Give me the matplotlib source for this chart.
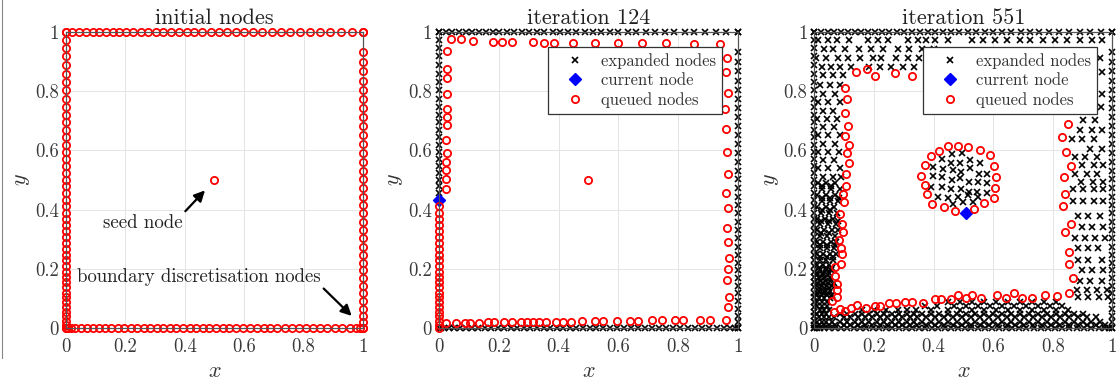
import matplotlib
matplotlib.use("Agg")
import matplotlib.pyplot as plt
import numpy as np
from matplotlib.lines import Line2D

plt.rcParams["font.family"] = "serif"
plt.rcParams["font.serif"] = ["cmr10", "DejaVu Serif"]
plt.rcParams["mathtext.fontset"] = "cm"
plt.rcParams["axes.formatter.use_mathtext"] = True

# boundary discretisation of the unit square
top_x = [0.0, 0.022, 0.045, 0.067, 0.090, 0.112, 0.135, 0.157, 0.180, 0.202, 0.227, 0.251,
         0.277, 0.302, 0.328, 0.353, 0.380, 0.406, 0.432, 0.459, 0.487, 0.515, 0.543, 0.572,
         0.600, 0.631, 0.661, 0.692, 0.724, 0.755, 0.788, 0.822, 0.855, 0.890, 0.926, 0.962, 1.0]
bottom_x = [0.0, 0.008, 0.018, 0.032, 0.050, 0.070, 0.090, 0.111, 0.132, 0.153, 0.174, 0.196,
            0.218, 0.240, 0.262, 0.284, 0.306, 0.328, 0.350, 0.372, 0.394, 0.416, 0.438, 0.460,
            0.482, 0.504, 0.527, 0.550, 0.573, 0.596, 0.619, 0.642, 0.665, 0.688, 0.712, 0.736,
            0.760, 0.784, 0.808, 0.832, 0.856, 0.880, 0.905, 0.930, 0.955, 0.975, 0.990, 1.0]
left_y = [1.0, 0.974, 0.946, 0.918, 0.887, 0.859, 0.830, 0.803, 0.774, 0.747, 0.721, 0.695,
          0.668, 0.644, 0.619, 0.595, 0.571, 0.546, 0.524, 0.501, 0.479, 0.456, 0.434, 0.411,
          0.389, 0.368, 0.348, 0.327, 0.306, 0.287, 0.267, 0.248, 0.229, 0.208, 0.190, 0.172,
          0.154, 0.137, 0.120, 0.104, 0.087, 0.071, 0.055, 0.039, 0.025, 0.011, 0.0]
right_y = [1.0, 0.931, 0.900, 0.868, 0.836, 0.805, 0.773, 0.742, 0.712, 0.681, 0.651, 0.620,
           0.590, 0.561, 0.531, 0.502, 0.473, 0.443, 0.415, 0.387, 0.359, 0.331, 0.303, 0.275,
           0.246, 0.221, 0.195, 0.169, 0.143, 0.117, 0.091, 0.065, 0.042, 0.021, 0.0]
seed = (0.5, 0.5)

# iteration 124: queued front just inside the boundary
cur_124 = (0.0, 0.434)
q124_top_x = [0.039, 0.073, 0.115, 0.179, 0.211, 0.245, 0.314, 0.351, 0.386, 0.448, 0.521,
              0.599, 0.681, 0.761, 0.853, 0.940]
q124_top_y = [0.975, 0.975, 0.968, 0.967, 0.967, 0.966, 0.965, 0.963, 0.964, 0.964, 0.964,
              0.963, 0.963, 0.962, 0.960, 0.960]
q124_right_y = [0.913, 0.865, 0.794, 0.741, 0.674, 0.595, 0.522, 0.457, 0.404, 0.337, 0.291,
                0.235, 0.198, 0.162, 0.106, 0.072, 0.027]
q124_right_x = [0.963, 0.960, 0.968, 0.958, 0.962, 0.965, 0.968, 0.962, 0.966, 0.963, 0.966,
                0.969, 0.968, 0.965, 0.970, 0.968, 0.962]
q124_left_y = [0.936, 0.876, 0.846, 0.792, 0.741, 0.713, 0.685, 0.634, 0.590, 0.562, 0.533,
               0.502, 0.471]
q124_left_x = [0.028, 0.028, 0.026, 0.026, 0.028, 0.026, 0.026, 0.024, 0.026, 0.024, 0.024,
               0.024, 0.024]
q124_bot_x = [0.023, 0.057, 0.087, 0.104, 0.135, 0.165, 0.185, 0.218, 0.243, 0.275, 0.293,
              0.314, 0.336, 0.358, 0.391, 0.414, 0.441, 0.479, 0.523, 0.548, 0.595, 0.639,
              0.667, 0.712, 0.746, 0.790, 0.818, 0.874, 0.907]
q124_bot_y = [0.016, 0.016, 0.018, 0.018, 0.018, 0.019, 0.019, 0.019, 0.020, 0.021, 0.020,
              0.021, 0.021, 0.021, 0.022, 0.022, 0.022, 0.023, 0.024, 0.023, 0.025, 0.025,
              0.025, 0.026, 0.026, 0.027, 0.027, 0.028, 0.028]

# iteration 551
cur_551 = (0.509, 0.389)
q551_front_x = [0.139, 0.177, 0.205, 0.271, 0.327,
                0.103, 0.111, 0.103, 0.113, 0.103, 0.115, 0.110, 0.115, 0.106, 0.107, 0.096,
                0.100, 0.087, 0.093, 0.095, 0.082, 0.091, 0.093, 0.089, 0.070, 0.068, 0.077,
                0.077, 0.077, 0.060, 0.066, 0.085, 0.102, 0.122, 0.144, 0.175, 0.203, 0.219,
                0.251, 0.275, 0.303, 0.329, 0.365, 0.404, 0.426, 0.460, 0.483, 0.508, 0.530,
                0.558, 0.612, 0.643, 0.670, 0.698, 0.729, 0.774, 0.813, 0.855,
                0.867, 0.856, 0.856, 0.841, 0.861, 0.836, 0.841, 0.838, 0.860, 0.845, 0.830,
                0.852]
q551_front_y = [0.865, 0.874, 0.851, 0.863, 0.853,
                0.812, 0.775, 0.725, 0.683, 0.648, 0.618, 0.592, 0.556, 0.520, 0.479, 0.452,
                0.426, 0.385, 0.351, 0.323, 0.299, 0.271, 0.250, 0.218, 0.205, 0.175, 0.148,
                0.128, 0.106, 0.092, 0.055, 0.066, 0.057, 0.067, 0.077, 0.069, 0.073, 0.074,
                0.083, 0.083, 0.088, 0.088, 0.083, 0.097, 0.097, 0.097, 0.111, 0.100, 0.111,
                0.100, 0.111, 0.102, 0.117, 0.103, 0.102, 0.111, 0.108, 0.117,
                0.168, 0.218, 0.258, 0.323, 0.353, 0.412, 0.452, 0.511, 0.548, 0.593, 0.644,
                0.689]
q551_ring_x = [0.418, 0.450, 0.481, 0.517, 0.556, 0.589, 0.604, 0.610, 0.606, 0.603, 0.569,
               0.536, 0.472, 0.436, 0.396, 0.377, 0.371, 0.358, 0.371, 0.393]
q551_ring_y = [0.599, 0.616, 0.615, 0.612, 0.602, 0.583, 0.547, 0.511, 0.472, 0.438, 0.421,
               0.403, 0.397, 0.410, 0.419, 0.453, 0.483, 0.515, 0.551, 0.581]

# expanded interior nodes at iteration 551, row by row (y, x positions)
exp_top_rows = [
    (0.972, [0.012, 0.046, 0.077, 0.115, 0.180, 0.214, 0.247, 0.314, 0.348, 0.376, 0.404,
             0.449, 0.528, 0.567, 0.606, 0.646, 0.690, 0.724, 0.769, 0.808, 0.847, 0.892,
             0.931, 0.964]),
    (0.942, [0.032, 0.063, 0.102, 0.149, 0.189, 0.231, 0.281, 0.318, 0.360, 0.400]),
    (0.912, [0.007, 0.040, 0.080, 0.113, 0.152, 0.197, 0.225, 0.275, 0.314, 0.350, 0.959]),
    (0.882, [0.026, 0.057, 0.085, 0.124, 0.182, 0.219, 0.258, 0.298, 0.335]),
    (0.865, [0.964]),
    (0.790, [0.966]),
    (0.745, [0.962]),
]
exp_left_rows = [
    (0.854, [0.030, 0.063, 0.097]),
    (0.822, [0.018, 0.052, 0.085]),
    (0.792, [0.030, 0.069]),
    (0.764, [0.012, 0.046, 0.085]),
    (0.733, [0.030, 0.063]),
    (0.705, [0.010, 0.044, 0.077]),
    (0.679, [0.030, 0.066]),
    (0.651, [0.012, 0.046, 0.085]),
    (0.623, [0.030, 0.069]),
    (0.595, [0.012, 0.046, 0.082]),
    (0.567, [0.030, 0.066]),
    (0.539, [0.012, 0.046, 0.085]),
    (0.511, [0.030, 0.063, 0.090]),
    (0.490, [0.012, 0.040, 0.070]),
    (0.470, [0.025, 0.055, 0.085]),
    (0.450, [0.010, 0.040, 0.068]),
    (0.430, [0.025, 0.053, 0.080]),
    (0.410, [0.010, 0.038, 0.066]),
    (0.390, [0.022, 0.050, 0.075]),
    (0.370, [0.008, 0.035, 0.062]),
    (0.350, [0.020, 0.047, 0.072]),
    (0.330, [0.008, 0.033, 0.058, 0.078]),
    (0.310, [0.018, 0.043, 0.068]),
    (0.290, [0.008, 0.030, 0.055, 0.072]),
    (0.270, [0.018, 0.042, 0.065]),
    (0.250, [0.008, 0.030, 0.052, 0.074]),
    (0.230, [0.018, 0.040, 0.062]),
    (0.212, [0.008, 0.028, 0.048]),
    (0.195, [0.018, 0.038, 0.056]),
    (0.178, [0.008, 0.028, 0.046]),
    (0.160, [0.018, 0.036, 0.054]),
    (0.143, [0.008, 0.026, 0.044, 0.060]),
    (0.126, [0.016, 0.034, 0.052]),
    (0.110, [0.008, 0.024, 0.042, 0.058]),
]
# denser packing towards the lower left corner
exp_left_fill_rows = [
    (0.480, [0.026, 0.056]),
    (0.440, [0.024, 0.054, 0.082]),
    (0.400, [0.024, 0.052]),
    (0.360, [0.022, 0.050, 0.078]),
    (0.320, [0.022, 0.048]),
    (0.280, [0.020, 0.044, 0.068]),
    (0.240, [0.020, 0.042, 0.064]),
    (0.203, [0.016, 0.038, 0.060]),
    (0.186, [0.010, 0.030, 0.050]),
    (0.169, [0.014, 0.034, 0.052]),
    (0.152, [0.010, 0.028, 0.046, 0.066]),
    (0.135, [0.014, 0.032, 0.050]),
    (0.118, [0.010, 0.028, 0.046]),
    (0.100, [0.016, 0.034, 0.052]),
    (0.088, [0.010, 0.026, 0.044]),
]
exp_bottom_rows = [
    (0.088, [0.450, 0.490, 0.530, 0.570, 0.610, 0.650, 0.690, 0.730, 0.770, 0.810]),
    (0.075, [0.010, 0.026, 0.042, 0.370, 0.410, 0.470, 0.510, 0.550, 0.590, 0.630, 0.670,
             0.710, 0.750, 0.790, 0.830]),
    (0.062, [0.018, 0.034, 0.050, 0.160, 0.200, 0.240, 0.280, 0.310, 0.340, 0.390, 0.450,
             0.490, 0.530, 0.570, 0.610, 0.650, 0.690, 0.730, 0.770, 0.810, 0.850]),
    (0.049, [0.008, 0.024, 0.040, 0.085, 0.110, 0.135, 0.160, 0.185, 0.210, 0.235, 0.260,
             0.285, 0.310, 0.335, 0.360, 0.390, 0.420, 0.450, 0.480, 0.510, 0.540, 0.570,
             0.600, 0.630, 0.660, 0.690, 0.720, 0.750, 0.780, 0.810, 0.840, 0.870, 0.900]),
    (0.036, [0.016, 0.032, 0.048, 0.066, 0.098, 0.120, 0.145, 0.170, 0.195, 0.220, 0.245,
             0.270, 0.295, 0.320, 0.345, 0.375, 0.405, 0.435, 0.465, 0.495, 0.525, 0.555,
             0.585, 0.615, 0.645, 0.675, 0.705, 0.735, 0.765, 0.795, 0.825, 0.855, 0.885,
             0.915, 0.945]),
    (0.022, [0.008, 0.024, 0.040, 0.058, 0.085, 0.110, 0.135, 0.160, 0.185, 0.210, 0.235,
             0.260, 0.285, 0.310, 0.335, 0.360, 0.390, 0.420, 0.450, 0.480, 0.510, 0.540,
             0.570, 0.600, 0.630, 0.660, 0.690, 0.720, 0.750, 0.780, 0.810, 0.840, 0.870,
             0.900, 0.930, 0.960]),
    (0.010, [0.016, 0.032, 0.050, 0.070, 0.098, 0.120, 0.145, 0.170, 0.195, 0.220, 0.245,
             0.270, 0.295, 0.320, 0.345, 0.375, 0.405, 0.435, 0.465, 0.495, 0.525, 0.555,
             0.585, 0.615, 0.645, 0.675, 0.705, 0.735, 0.765, 0.795, 0.825, 0.855, 0.885,
             0.915, 0.945, 0.975]),
]
exp_right_rows = [
    (0.702, [0.903, 0.942]),
    (0.668, [0.891, 0.931, 0.964]),
    (0.640, [0.864, 0.897, 0.940]),
    (0.605, [0.925, 0.964]),
    (0.578, [0.875, 0.910, 0.950]),
    (0.550, [0.897, 0.940, 0.970]),
    (0.522, [0.875, 0.915, 0.950]),
    (0.495, [0.895, 0.935, 0.970]),
    (0.470, [0.869, 0.903, 0.937, 0.970]),
    (0.430, [0.869, 0.903, 0.937, 0.970]),
    (0.380, [0.886, 0.920, 0.959]),
    (0.340, [0.897, 0.931, 0.970]),
    (0.305, [0.875, 0.909, 0.942, 0.976]),
    (0.270, [0.886, 0.920, 0.953]),
    (0.230, [0.886, 0.920, 0.964]),
    (0.195, [0.897, 0.931, 0.970]),
    (0.160, [0.891, 0.925, 0.964]),
    (0.130, [0.880, 0.914, 0.948, 0.981]),
    (0.105, [0.886, 0.920, 0.955, 0.985]),
]
exp_disk_x = [0.461, 0.494, 0.427, 0.459, 0.489, 0.522, 0.556, 0.399, 0.431, 0.464, 0.493,
              0.522, 0.553, 0.578, 0.399, 0.427, 0.461, 0.489, 0.520, 0.550, 0.578, 0.391,
              0.427, 0.459, 0.492, 0.520, 0.545, 0.578, 0.416, 0.447, 0.483, 0.517, 0.550,
              0.466, 0.500, 0.534]
exp_disk_y = [0.588, 0.590, 0.570, 0.558, 0.556, 0.567, 0.556, 0.545, 0.536, 0.534, 0.528,
              0.539, 0.522, 0.522, 0.513, 0.511, 0.500, 0.506, 0.494, 0.494, 0.489, 0.478,
              0.478, 0.469, 0.469, 0.461, 0.461, 0.457, 0.444, 0.438, 0.444, 0.449, 0.444,
              0.419, 0.427, 0.427]

RED = "#ff0000"
Q_STYLE = dict(ls="none", marker="o", ms=5.2, mfc="none", mec=RED, mew=1.3, clip_on=False)
X_STYLE = dict(ls="none", marker="x", ms=3.8, color="black", mew=1.2, clip_on=False)
D_STYLE = dict(ls="none", marker="D", ms=6.5, color="#0000ff", mec="#0000ff", clip_on=False)


def rows_to_xy(rows):
    xs, ys = [], []
    for y, row in rows:
        xs.extend(row)
        ys.extend([y] * len(row))
    return np.array(xs), np.array(ys)


def boundary_xy():
    tx = np.array(top_x)
    bx = np.array(bottom_x)
    ly = np.array(left_y)
    ry = np.array(right_y)
    xs = np.concatenate([tx, bx, np.zeros_like(ly), np.ones_like(ry)])
    ys = np.concatenate([np.ones_like(tx), np.zeros_like(bx), ly, ry])
    return xs, ys


def style_axes(ax, title):
    ax.set_xlim(0, 1)
    ax.set_ylim(0, 1)
    ax.set_xticks([0, 0.2, 0.4, 0.6, 0.8, 1])
    ax.set_yticks([0, 0.2, 0.4, 0.6, 0.8, 1])
    ax.set_xticklabels(["0", "0.2", "0.4", "0.6", "0.8", "1"])
    ax.set_yticklabels(["0", "0.2", "0.4", "0.6", "0.8", "1"])
    ax.tick_params(length=0, labelsize=13.5, colors="#3a3a3a")
    ax.tick_params(axis="x", pad=7)
    ax.tick_params(axis="y", pad=5)
    ax.grid(True, color="#e4e4e4", lw=0.7)
    ax.set_axisbelow(True)
    for sp in ax.spines.values():
        sp.set_color("#555555")
        sp.set_linewidth(0.9)
    ax.set_title(title, fontsize=16, color="#222222", pad=6)
    ax.set_xlabel("$x$", fontsize=16, color="#333333", labelpad=4)
    ax.set_ylabel("$y$", fontsize=16, color="#333333", labelpad=2)


fig = plt.figure(figsize=(11.18, 3.81), dpi=100)
ax1 = fig.add_axes([0.0590, 0.139, 0.2657, 0.777])
ax2 = fig.add_axes([0.3927, 0.139, 0.2672, 0.777])
ax3 = fig.add_axes([0.7284, 0.139, 0.2665, 0.777])

bx, by = boundary_xy()

# initial nodes
style_axes(ax1, "initial nodes")
ax1.plot(bx, by, **Q_STYLE)
ax1.plot([seed[0]], [seed[1]], **Q_STYLE)
ax1.annotate("seed node", xy=(0.468, 0.465), xytext=(0.125, 0.355),
             fontsize=13.6, va="center", color="#222222",
             arrowprops=dict(arrowstyle="-|>", color="black", lw=1.6, mutation_scale=16,
                             shrinkA=0, shrinkB=0, relpos=(1.0, 1.0)))
ax1.annotate("boundary discretisation nodes", xy=(0.962, 0.041), xytext=(0.038, 0.173),
             fontsize=13.5, va="center", color="#222222",
             arrowprops=dict(arrowstyle="-|>", color="black", lw=1.6, mutation_scale=16,
                             shrinkA=0, shrinkB=0, relpos=(1.0, 0.0)))

# iteration 124
style_axes(ax2, "iteration 124")
ly = np.array(left_y)
tx = np.array(top_x)
btx = np.array(bottom_x)
ry = np.array(right_y)
e2x = np.concatenate([tx, btx, np.zeros(np.sum(ly > cur_124[1])), np.ones_like(ry)])
e2y = np.concatenate([np.ones_like(tx), np.zeros_like(btx), ly[ly > cur_124[1]], ry])
q2x = np.concatenate([q124_top_x, q124_right_x, q124_left_x, q124_bot_x,
                      np.zeros(np.sum(ly < cur_124[1])), [seed[0]]])
q2y = np.concatenate([q124_top_y, q124_right_y, q124_left_y, q124_bot_y,
                      ly[ly < cur_124[1]], [seed[1]]])
ax2.plot(e2x, e2y, label="expanded nodes", **X_STYLE)
ax2.plot([cur_124[0]], [cur_124[1]], label="current node", **D_STYLE)
ax2.plot(q2x, q2y, label="queued nodes", **Q_STYLE)

# iteration 551
style_axes(ax3, "iteration 551")
ix = []
iy = []
for rows in (exp_top_rows, exp_left_rows, exp_left_fill_rows, exp_bottom_rows,
             exp_right_rows):
    rx, ryy = rows_to_xy(rows)
    ix.append(rx)
    iy.append(ryy)
e3x = np.concatenate([bx] + ix + [exp_disk_x])
e3y = np.concatenate([by] + iy + [exp_disk_y])
q3x = np.concatenate([q551_front_x, q551_ring_x])
q3y = np.concatenate([q551_front_y, q551_ring_y])
ax3.plot(e3x, e3y, label="expanded nodes", **X_STYLE)
ax3.plot([cur_551[0]], [cur_551[1]], label="current node", **D_STYLE)
ax3.plot(q3x, q3y, label="queued nodes", **Q_STYLE)

for ax in (ax2, ax3):
    leg = ax.legend(loc="upper right", bbox_to_anchor=(0.947, 0.949), borderaxespad=0,
                    fontsize=12, frameon=True, fancybox=False, framealpha=1,
                    edgecolor="#333333", handlelength=2.5, handletextpad=0.3,
                    labelspacing=0.25, borderpad=0.35)
    leg.get_frame().set_linewidth(0.9)
    leg.set_zorder(10)
    for t in leg.get_texts():
        t.set_color("#333333")

# thin rule at the left edge of the figure
fig.add_artist(Line2D([0.002, 0.002], [0.06, 1.0], color="#888888", lw=0.8))

fig.savefig("out.png", dpi=100)
